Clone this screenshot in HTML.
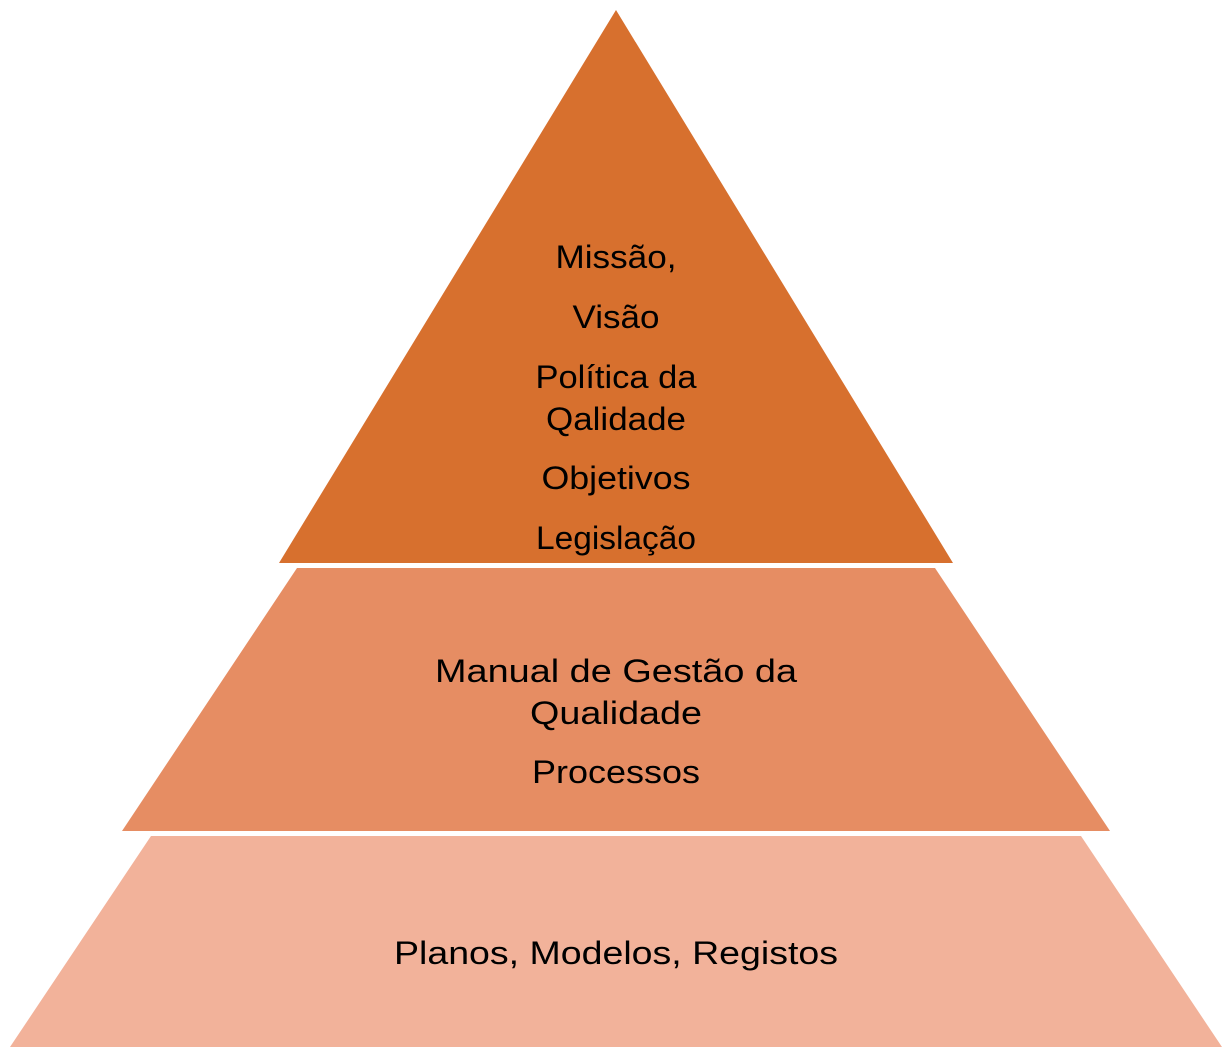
<!DOCTYPE html>
<html><head><meta charset="utf-8"><style>
html,body{margin:0;padding:0;background:#fff;}
svg{display:block;}
text{font-family:"Liberation Sans",sans-serif;font-size:32px;fill:#000;text-anchor:middle;}
</style></head><body>
<svg width="1232" height="1053" viewBox="0 0 1232 1053" xmlns="http://www.w3.org/2000/svg">
<polygon points="616,10 953,563 279,563" fill="#D7702E"/>
<polygon points="297,568 935,568 1110,831 122,831" fill="#E68D63"/>
<polygon points="151,836 1081,836 1222,1047 10,1047" fill="#F2B29A"/>
<text x="616" y="268" textLength="121" lengthAdjust="spacingAndGlyphs">Missão,</text>
<text x="616" y="328" textLength="87" lengthAdjust="spacingAndGlyphs">Visão</text>
<text x="616" y="388" textLength="161" lengthAdjust="spacingAndGlyphs">Política da</text>
<text x="616" y="430" textLength="140" lengthAdjust="spacingAndGlyphs">Qalidade</text>
<text x="616" y="489" textLength="149" lengthAdjust="spacingAndGlyphs">Objetivos</text>
<text x="616" y="549" textLength="160" lengthAdjust="spacingAndGlyphs">Legislação</text>
<text x="616" y="682" textLength="362" lengthAdjust="spacingAndGlyphs">Manual de Gestão da</text>
<text x="616" y="724" textLength="172" lengthAdjust="spacingAndGlyphs">Qualidade</text>
<text x="616" y="783" textLength="168" lengthAdjust="spacingAndGlyphs">Processos</text>
<text x="616" y="964" textLength="444" lengthAdjust="spacingAndGlyphs">Planos, Modelos, Registos</text>
</svg>
</body></html>
